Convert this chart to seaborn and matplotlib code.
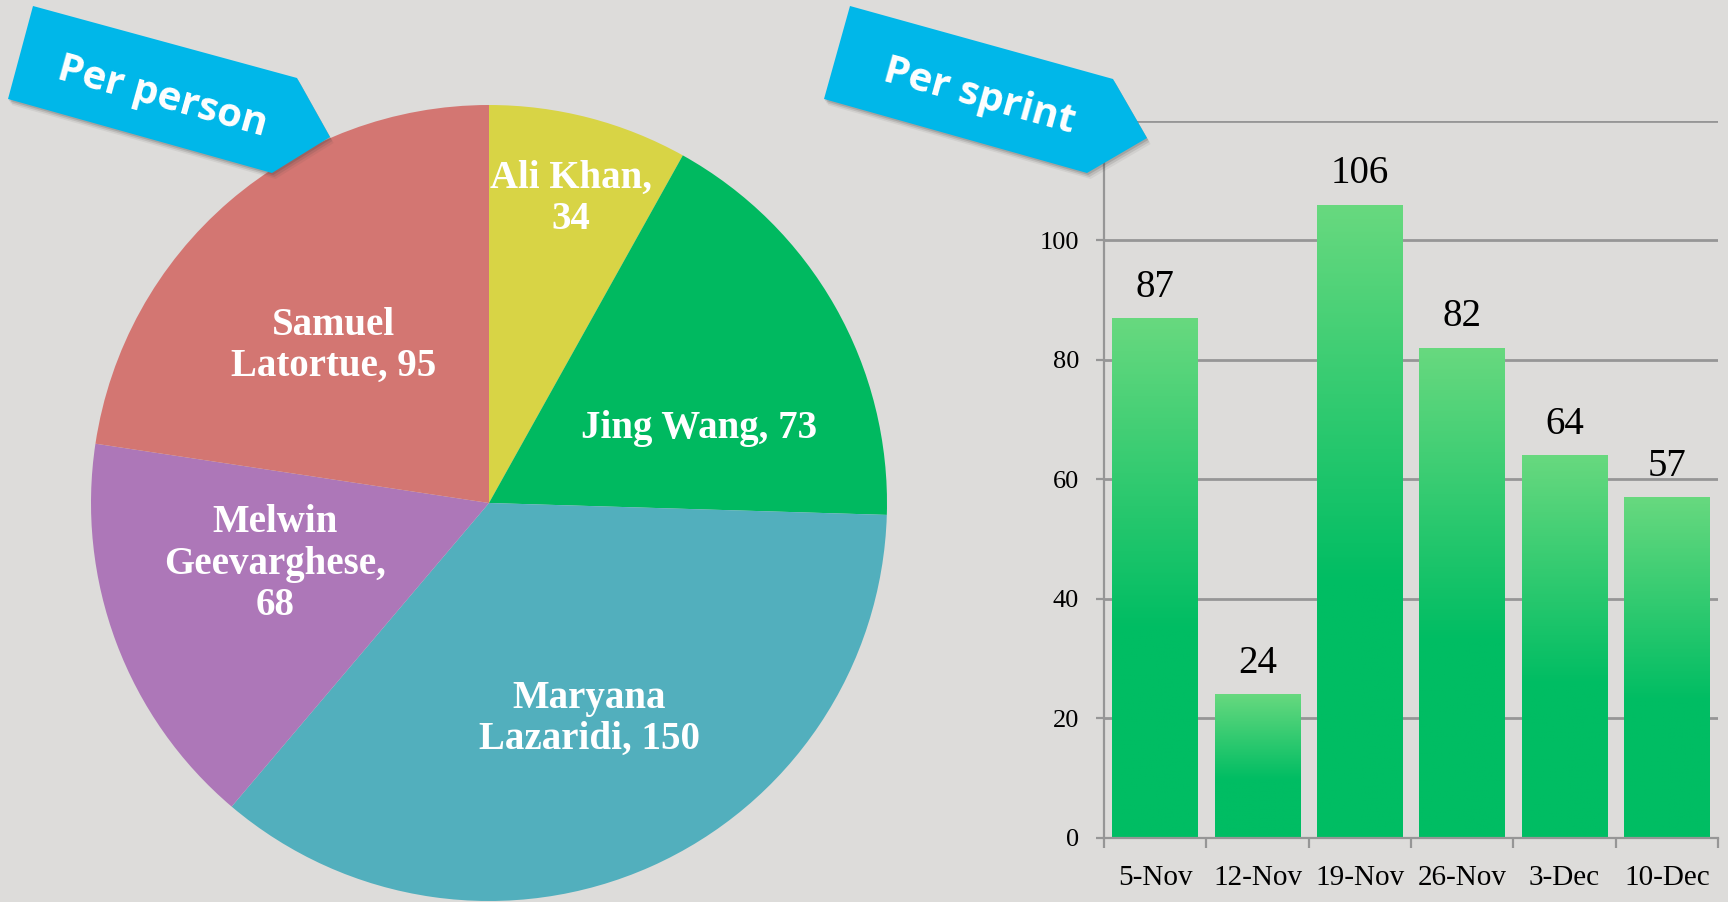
import matplotlib.pyplot as plt
import seaborn as sns
import numpy as np
from matplotlib.patches import Polygon
from matplotlib.colors import LinearSegmentedColormap

# data
people = ["Ali Khan", "Jing Wang", "Maryana Lazaridi", "Melwin Geevarghese", "Samuel Latortue"]
person_counts = [34, 73, 150, 68, 95]
pie_labels = ["Ali Khan,\n34", "Jing Wang, 73", "Maryana\nLazaridi, 150",
              "Melwin\nGeevarghese,\n68", "Samuel\nLatortue, 95"]
pie_colors = ["#D8D445", "#00B960", "#52AFBD", "#AD77B8", "#D37672"]

sprints = ["5-Nov", "12-Nov", "19-Nov", "26-Nov", "3-Dec", "10-Dec"]
sprint_counts = [87, 24, 106, 82, 64, 57]

bg = "#DDDCDA"
grid_col = "#969696"

sns.set_theme(style="white")
plt.rcParams["font.family"] = ["Liberation Serif", "DejaVu Serif"]

W, H = 1728, 902
fig = plt.figure(figsize=(W / 100, H / 100), dpi=100)
fig.patch.set_facecolor(bg)

# ---------- pie ----------
cx, cy, r = 489, 503, 398
ax1 = fig.add_axes([(cx - r) / W, (H - cy - r) / H, 2 * r / W, 2 * r / H])
ax1.set_facecolor(bg)
wedges, _ = ax1.pie(person_counts, colors=pie_colors, startangle=90, counterclock=False,
                    wedgeprops=dict(linewidth=0))
ax1.set_xlim(-1, 1)
ax1.set_ylim(-1, 1)
ax1.axis("off")

# label placement relative to each wedge (radius fraction, angle nudge)
lab_r = [0.79, 0.559, 0.598, 0.558, 0.555]
lab_da = [-0.5, -10, 1, -4.6, 4]
for w, txt, rr, da in zip(wedges, pie_labels, lab_r, lab_da):
    ang = np.deg2rad((w.theta1 + w.theta2) / 2 + da)
    ax1.text(rr * np.cos(ang), rr * np.sin(ang), txt, ha="center", va="center",
             color="white", fontsize=28, fontweight="bold", linespacing=1.15)

# ---------- bars ----------
x0, x1, y0, y1 = 1104, 1718, 837.5, 121
ax2 = fig.add_axes([x0 / W, (H - y0) / H, (x1 - x0) / W, (y0 - y1) / H])
ax2.set_facecolor(bg)
sns.barplot(x=sprints, y=sprint_counts, ax=ax2, width=0.84, color="#00BD63", saturation=1)
ax2.set_ylim(0, 120)
ax2.set_xlim(-0.5, len(sprints) - 0.5)
ax2.set_yticks(range(0, 121, 20))
ax2.set_yticklabels([str(v) for v in range(0, 101, 20)] + [""])
ax2.yaxis.grid(True, color=grid_col, linewidth=2)
ax2.set_axisbelow(True)
for s in ["top", "right"]:
    ax2.spines[s].set_visible(False)
for s in ["left", "bottom"]:
    ax2.spines[s].set_color(grid_col)
    ax2.spines[s].set_linewidth(1.6)

ax2.set_xticks(np.arange(-0.5, len(sprints)), labels=[""] * (len(sprints) + 1))
ax2.set_xticks(range(len(sprints)), labels=sprints, minor=True)
ax2.tick_params(axis="x", which="major", direction="out", length=7, width=1.6,
                color=grid_col, bottom=True)
ax2.tick_params(axis="x", which="minor", length=0, pad=20, labelsize=21, labelcolor="black")
ax2.tick_params(axis="y", direction="out", length=6, width=1.6, color=grid_col,
                left=True, pad=12, labelsize=19, labelcolor="black")
ax2.set_xlabel("")
ax2.set_ylabel("")

# gradient fill inside each bar
cmap = LinearSegmentedColormap.from_list(
    "bar", [(0, "#00BD63"), (0.4, "#00BD63"), (1, "#68D97F")])
grad = np.linspace(0, 1, 256).reshape(-1, 1)
for p in ax2.patches:
    bx, by, bw, bh = p.get_x(), p.get_y(), p.get_width(), p.get_height()
    p.set_facecolor("none")
    p.set_edgecolor("none")
    im = ax2.imshow(grad, cmap=cmap, aspect="auto", origin="lower",
                    extent=[bx, bx + bw, by, by + bh], zorder=2)
    im.set_clip_path(p)
ax2.set_xlim(-0.5, len(sprints) - 0.5)
ax2.set_ylim(0, 120)

ax2.bar_label(ax2.containers[0], labels=[str(v) for v in sprint_counts],
              padding=9, fontsize=28, color="black")

# ---------- banners ----------
def banner(pts, text, tx, ty):
    fpts = [(x / W, 1 - y / H) for x, y in pts]
    for off, a in [(6, 0.08), (4, 0.14), (2, 0.2)]:
        spts = [((x + off * 0.6) / W, 1 - (y + off) / H) for x, y in pts]
        fig.patches.append(Polygon(spts, closed=True, transform=fig.transFigure,
                                   facecolor="#444444", alpha=a, edgecolor="none", zorder=5))
    fig.patches.append(Polygon(fpts, closed=True, transform=fig.transFigure,
                               facecolor="#00B7E9", edgecolor="none", zorder=6))
    fig.text(tx / W, 1 - ty / H, text, color="white", fontsize=29, fontweight="bold",
             family=["Open Sans", "DejaVu Sans"], rotation=-15.5, rotation_mode="anchor",
             ha="center", va="center", zorder=7)

banner([(33, 6), (297, 78), (330, 137), (272, 173), (8, 99)], "Per person", 162, 97)
banner([(850, 6), (1113, 79), (1147, 138), (1087, 173), (824, 99)], "Per sprint", 979, 97)

fig.savefig("out.png", dpi=100, facecolor=bg)
